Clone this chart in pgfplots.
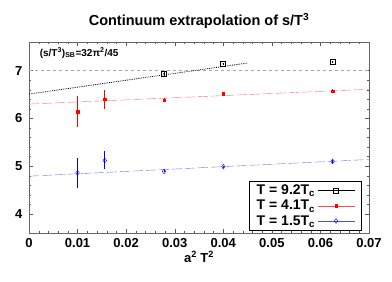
\documentclass[border=0pt]{standalone}
\usepackage{pgfplots}
\pgfplotsset{compat=1.18}
\usetikzlibrary{calc}
\usepackage{fontspec}
\setmainfont{Liberation Sans}
\begin{document}
\begin{tikzpicture}
\begin{axis}[
  scale only axis, width=340pt, height=191pt,
  xmin=0, xmax=0.07, ymin=3.6, ymax=7.6,
  scaled x ticks=false,
  xtick={0,0.01,0.02,0.03,0.04,0.05,0.06,0.07},
  xticklabels={0,0.01,0.02,0.03,0.04,0.05,0.06,0.07},
  ytick={4,5,6,7},
  minor x tick num=4, minor y tick num=4,
  tick align=inside, tick pos=both,
  major tick length=4pt, minor tick length=2pt,
  axis line style={gray!80!black},
  every tick/.style={gray!70!black},
  /pgf/number format/assume math mode=true,
  ticklabel style={font=\bfseries\fontsize{13}{13}\selectfont},
  xticklabel style={yshift=-2pt},
  yticklabel style={xshift=-3pt},
  title={\bfseries\fontsize{14.5}{16}\selectfont Continuum extrapolation of s/T\textsuperscript{3}},
  title style={yshift=4pt},
  xlabel={\bfseries\fontsize{13}{14}\selectfont a\textsuperscript{2} T\textsuperscript{2}},
  xlabel style={yshift=3pt},
  legend plot pos=right,
  legend cell align=left,
  legend image code/.code={\draw[mark repeat=2, mark phase=2, #1] plot coordinates {(0cm,0cm) (0.65cm,0cm) (1.3cm,0cm)};},
  legend style={at={(0.977,0.012)}, anchor=south east, draw=black, font=\bfseries\fontsize{14}{15}\selectfont, row sep=0pt, inner ysep=2pt, inner xsep=6pt},
  clip=false,
]
% SB limit
\addplot[gray!70, dashed, forget plot] coordinates {(0,7.018) (0.07,7.018)};
% fit lines
\addplot[black, densely dotted, thick, forget plot] coordinates {(0,6.51) (0.045,7.16)};
\addplot[red!55, dash pattern=on 10pt off 3pt, forget plot] coordinates {(0,6.30) (0.07,6.61)};
\addplot[blue!55, dash pattern=on 10pt off 3pt, forget plot] coordinates {(0,4.79) (0.07,5.14)};
% data 9.2 Tc
\addplot[black, only marks, mark=square, mark size=2.6pt, mark options={thick}, forget plot, error bars/.cd, y dir=both, y explicit, error mark=none, error bar style={black}] coordinates {
(0.0278,6.94) +- (0,0.05)
(0.0400,7.14) +- (0,0.03)
(0.0625,7.18) +- (0,0.02)
};
\addplot[black, only marks, mark=*, mark size=0.5pt, forget plot] coordinates {(0.0278,6.94) (0.0400,7.14) (0.0625,7.18)};
% data 4.1 Tc
\addplot[red, only marks, mark=square*, mark size=1.2pt, forget plot, error bars/.cd, y dir=both, y explicit, error mark=none, error bar style={red, thick}] coordinates {
(0.0100,6.14) +- (0,0.33)
(0.0156,6.40) +- (0,0.20)
(0.0278,6.38) +- (0,0.04)
(0.0400,6.52) +- (0,0.03)
(0.0625,6.57) +- (0,0.04)
};
% data 1.5 Tc
\addplot[blue, only marks, mark=diamond, mark size=2.4pt, forget plot, error bars/.cd, y dir=both, y explicit, error mark=none, error bar style={blue, thick}] coordinates {
(0.0100,4.86) +- (0,0.32)
(0.0156,5.12) +- (0,0.19)
(0.0278,4.89) +- (0,0.02)
(0.0400,4.99) +- (0,0.02)
(0.0625,5.10) +- (0,0.03)
};
\addlegendimage{black, thick, mark=square, mark size=2.6pt}
\addlegendentry{T = 9.2T\textsubscript{c}}
\addlegendimage{red!70, mark=square*, mark size=1.2pt, mark options={red}}
\addlegendentry{T = 4.1T\textsubscript{c}}
\addlegendimage{blue!70, mark=diamond, mark size=2.4pt, mark options={blue}}
\addlegendentry{T = 1.5T\textsubscript{c}}
\node[anchor=west, font=\bfseries\fontsize{10}{11}\selectfont] at (axis cs:0.0015,7.37) {(s/T\textsuperscript{3})\textsubscript{SB}=32π\textsuperscript{2}/45};
\end{axis}
\pgfresetboundingbox
\path ($(current axis.south west)+(-29pt,-48pt)$) rectangle ($(current axis.north east)+(23pt,42pt)$);
\end{tikzpicture}
\end{document}
